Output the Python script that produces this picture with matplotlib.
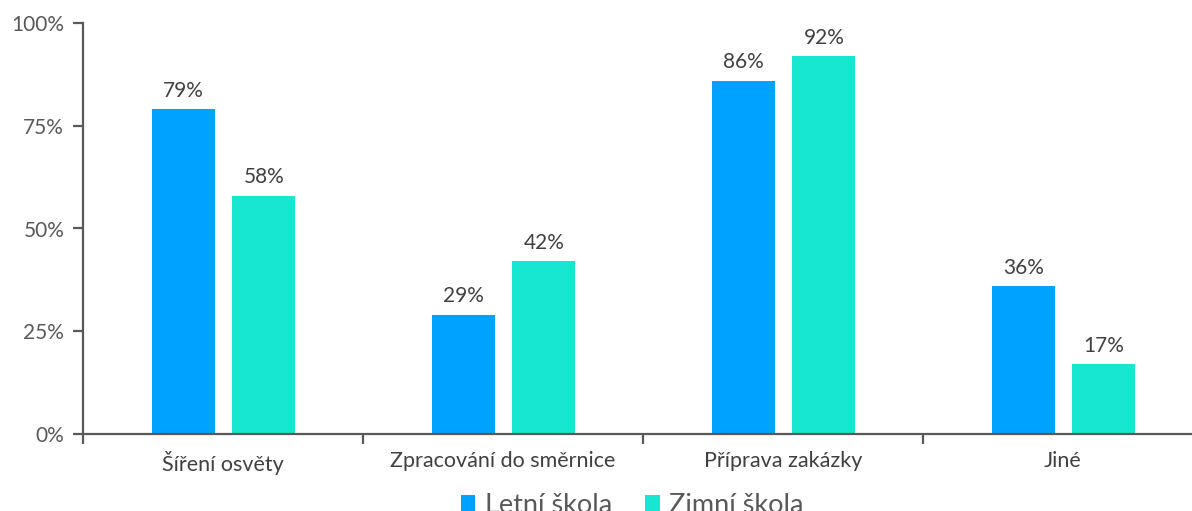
import matplotlib as mpl
mpl.use('Agg')
import matplotlib.pyplot as plt
from matplotlib.ticker import FixedLocator, PercentFormatter
import numpy as np

plt.rcParams['font.family'] = ['Lato', 'DejaVu Sans']

categories = ['Šíření osvěty', 'Zpracování do směrnice', 'Příprava zakázky', 'Jiné']
letni = [79, 29, 86, 36]
zimni = [58, 42, 92, 17]
series_names = ['Letní škola', 'Zimní škola']
colors = ['#00A2FF', '#17E6D0']

axis_col = '#595959'
text_col = '#404040'

fig = plt.figure(figsize=(11.92, 5.11), dpi=100)
ax = fig.add_axes([83 / 1192, 77 / 511, 1120 / 1192, 411 / 511])

x = np.arange(len(categories))
w = 0.225
off = 0.143
b1 = ax.bar(x - off + 0.003, letni, width=w, color=colors[0], label=series_names[0])
b2 = ax.bar(x + off + 0.003, zimni, width=w, color=colors[1], label=series_names[1])

for bars, vals in ((b1, letni), (b2, zimni)):
    for rect, v in zip(bars, vals):
        ax.annotate(f'{v}%', (rect.get_x() + rect.get_width() / 2, v),
                    xytext=(0, 6), textcoords='offset points',
                    ha='center', va='bottom', fontsize=15, color=text_col)

ax.set_xlim(-0.5, 3.5)
ax.set_ylim(0, 100)
ax.set_yticks([0, 25, 50, 75, 100])
ax.yaxis.set_major_formatter(PercentFormatter(decimals=0))

ax.xaxis.set_major_locator(FixedLocator([-0.5, 0.5, 1.5, 2.5, 3.5]))
ax.xaxis.set_minor_locator(FixedLocator(list(x)))
ax.set_xticklabels([], minor=False)
ax.set_xticklabels(categories, minor=True)

for s in ['top', 'right']:
    ax.spines[s].set_visible(False)
for s in ['left', 'bottom']:
    ax.spines[s].set_color(axis_col)
    ax.spines[s].set_linewidth(1.6)

ax.tick_params(axis='x', which='major', length=7.5, width=1.6, color=axis_col, direction='out')
ax.tick_params(axis='x', which='minor', length=0, pad=12.5, labelsize=15.5, labelcolor=text_col)
ax.tick_params(axis='y', length=7.5, width=1.6, color=axis_col, pad=6,
               labelsize=15, labelcolor=axis_col)

fig.legend(handles=[b1, b2], labels=series_names, loc='center',
           bbox_to_anchor=(632 / 1192, 1 - 505 / 511), ncol=2, frameon=False,
           fontsize=19.5, labelcolor=axis_col, handlelength=0.55, handleheight=0.55,
           handletextpad=0.35, columnspacing=1.2)

fig.savefig('out.png', dpi=100)
